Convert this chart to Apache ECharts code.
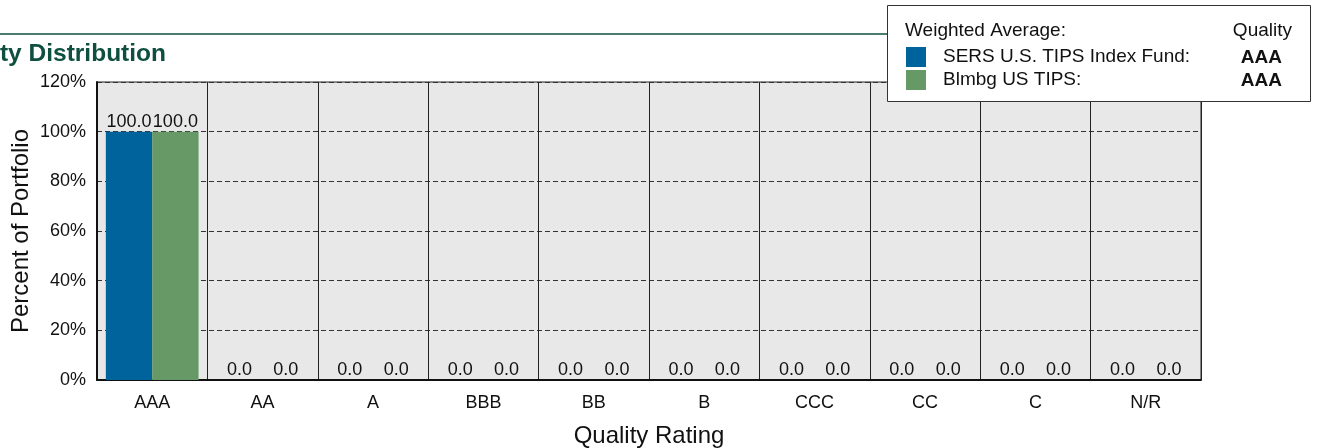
<!DOCTYPE html>
<html><head><meta charset="utf-8">
<script src="https://cdn.jsdelivr.net/npm/echarts@6/dist/echarts.min.js"></script>
<style>html,body{margin:0;padding:0;background:#fff}#c{width:1317px;height:448px}</style>
</head><body><div id="c"></div>
<script>
const categories = ['AAA','AA','A','BBB','BB','B','CCC','CC','C','N/R'];
const fundName = 'SERS U.S. TIPS Index Fund:';
const benchName = 'Blmbg US TIPS:';
const fundValues = [100.0,0.0,0.0,0.0,0.0,0.0,0.0,0.0,0.0,0.0];
const benchValues = [100.0,0.0,0.0,0.0,0.0,0.0,0.0,0.0,0.0,0.0];
const fundQuality = 'AAA';
const benchQuality = 'AAA';
const yTicks = [0,20,40,60,80,100,120];
const titleText = 'Quality Distribution';

const FONT = 'Liberation Sans, Arial, sans-serif';
const TITLE_FONT = 'bold 24.5px ' + FONT;
// position title so that it is clipped at the left edge like the reference
const cv = document.createElement('canvas').getContext('2d');
cv.font = TITLE_FONT;
const titleW = cv.measureText(titleText).width;
const titleLeft = 166 - titleW;

const chart = echarts.init(document.getElementById('c'));
const labelCfg = {show:true, position:'top', distance:1, color:'#111', fontSize:18, fontFamily:FONT,
  formatter: p => p.value.toFixed(1)};
chart.setOption({
  animation:false,
  textStyle:{fontFamily:FONT},
  grid:{left:97, right:116, top:82, bottom:68, outerBoundsMode:'none', containLabel:false,
    show:true, backgroundColor:'#e8e8e8', borderColor:'#222', borderWidth:1},
  xAxis:{type:'category', data:categories,
    name:'Quality Rating', nameLocation:'middle', nameGap:44, nameMoveOverlap:false,
    nameTextStyle:{fontSize:24, color:'#111', fontFamily:FONT},
    axisLine:{lineStyle:{color:'#111', width:2}}, axisTick:{show:false},
    axisLabel:{fontSize:18, color:'#111', margin:14, fontFamily:FONT},
    splitLine:{show:true, lineStyle:{color:'#222', width:1, type:'solid'}}},
  yAxis:{type:'value', min:yTicks[0], max:yTicks[yTicks.length-1], interval:20,
    name:'Percent of Portfolio', nameLocation:'middle', nameGap:64, nameMoveOverlap:false,
    nameTextStyle:{fontSize:24, color:'#111', fontFamily:FONT},
    axisLine:{show:true, lineStyle:{color:'#111', width:2}}, axisTick:{show:false},
    axisLabel:{fontSize:18, color:'#111', margin:11, formatter:'{value}%', fontFamily:FONT},
    splitLine:{show:true, lineStyle:{color:'#333', width:1, type:[5,3]}}},
  legend:{orient:'vertical', left:906, top:47, padding:0, itemWidth:20, itemHeight:20, itemGap:3, z:20,
    icon:'rect', textStyle:{fontSize:19, color:'#111', padding:[0,0,0,12], fontFamily:FONT},
    data:[fundName, benchName]},
  series:[
    {name:fundName, type:'bar', data:fundValues, barGap:'0%', barCategoryGap:'16%',
     itemStyle:{color:'#00639b'}, label:labelCfg, z:3},
    {name:benchName, type:'bar', data:benchValues,
     itemStyle:{color:'#669966'}, label:labelCfg, z:3}
  ],
  graphic:[
    {type:'line', shape:{x1:0,y1:34,x2:900,y2:34}, style:{stroke:'#0f4f3f', lineWidth:1.5}, z:1},
    {type:'text', x:titleLeft, y:42, style:{text:titleText, fill:'#0f4f3f', font:TITLE_FONT}},
    {type:'rect', shape:{x:887.5,y:5.5,width:423,height:96}, style:{fill:'#fff', stroke:'#333', lineWidth:1}, z:5},
    {type:'text', left:905, top:21, style:{text:'Weighted Average:', fill:'#111', font:'19px '+FONT}, z:6},
    {type:'text', right:25, top:21, style:{text:'Quality', fill:'#111', font:'19px '+FONT}, z:6},
    {type:'text', right:35, top:48, style:{text:fundQuality, fill:'#111', font:'bold 19px '+FONT}, z:6},
    {type:'text', right:35, top:71, style:{text:benchQuality, fill:'#111', font:'bold 19px '+FONT}, z:6}
  ]
});
</script></body></html>
